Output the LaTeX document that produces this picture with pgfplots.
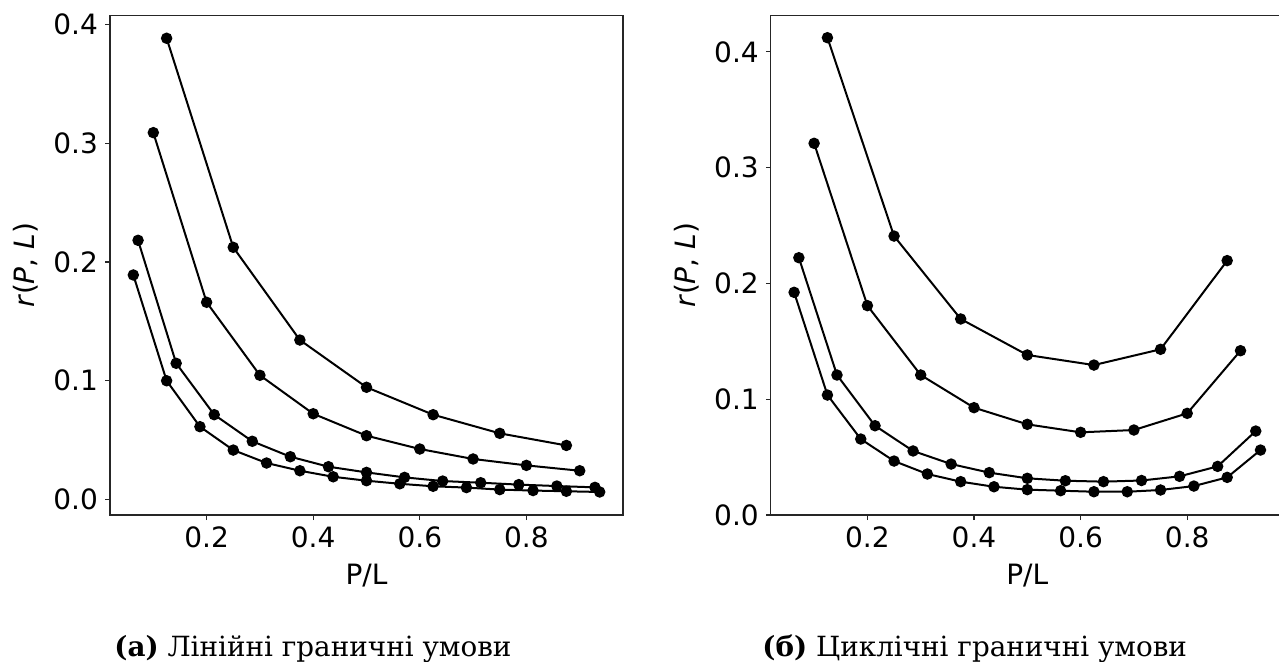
\documentclass[border=0pt]{standalone}
\usepackage{fontspec}
\setmainfont{DejaVu Sans}
\newfontfamily\capfont{DejaVu Serif}
\usepackage{pgfplots}
\usepackage{pgfplotstable}
\pgfplotsset{compat=1.18}

% Left panel (linear boundary conditions)
\pgfplotstableread{
x y
0.125 0.3884
0.25 0.2123
0.375 0.1342
0.5 0.0944
0.625 0.0713
0.75 0.0556
0.875 0.0454
}\LA
\pgfplotstableread{
x y
0.1 0.3089
0.2 0.1660
0.3 0.1045
0.4 0.0721
0.5 0.0536
0.6 0.0424
0.7 0.0340
0.8 0.0286
0.9 0.0241
}\LB
\pgfplotstableread{
x y
0.0714 0.2182
0.1429 0.1146
0.2143 0.0713
0.2857 0.0489
0.3571 0.0359
0.4286 0.0275
0.5 0.0227
0.5714 0.0185
0.6429 0.0154
0.7143 0.0140
0.7857 0.0124
0.8571 0.0112
0.9286 0.0101
}\LC
\pgfplotstableread{
x y
0.0625 0.1890
0.125 0.0999
0.1875 0.0612
0.25 0.0415
0.3125 0.0306
0.375 0.0241
0.4375 0.0190
0.5 0.0157
0.5625 0.0131
0.625 0.0110
0.6875 0.0099
0.75 0.0082
0.8125 0.0074
0.875 0.0068
0.9375 0.0062
}\LD
% Right panel (cyclic boundary conditions)
\pgfplotstableread{
x y
0.125 0.4122
0.25 0.2409
0.375 0.1693
0.5 0.1382
0.625 0.1295
0.75 0.1431
0.875 0.2197
}\RA
\pgfplotstableread{
x y
0.1 0.3210
0.2 0.1808
0.3 0.1209
0.4 0.0927
0.5 0.0783
0.6 0.0714
0.7 0.0734
0.8 0.0878
0.9 0.1419
}\RB
\pgfplotstableread{
x y
0.0714 0.2222
0.1429 0.1209
0.2143 0.0771
0.2857 0.0553
0.3571 0.0440
0.4286 0.0366
0.5 0.0317
0.5714 0.0296
0.6429 0.0288
0.7143 0.0298
0.7857 0.0334
0.8571 0.0420
0.9286 0.0725
}\RC
\pgfplotstableread{
x y
0.0625 0.1923
0.125 0.1036
0.1875 0.0656
0.25 0.0466
0.3125 0.0354
0.375 0.0288
0.4375 0.0244
0.5 0.0219
0.5625 0.0210
0.625 0.0201
0.6875 0.0201
0.75 0.0216
0.8125 0.0250
0.875 0.0325
0.9375 0.0561
}\RD

\pgfplotsset{
  panel/.style={
    anchor=south west,
    scale only axis,
    width=256.5pt, height=249.65pt,
    xmin=0.01875, xmax=0.98125,
    xtick={0.2,0.4,0.6,0.8},
    ytick={0,0.1,0.2,0.3,0.4},
    tick align=outside,
    major tick length=2.5pt,
    xtick pos=bottom, ytick pos=left,
    axis line style={line width=0.6pt, black!85},
    every tick/.style={line width=0.6pt, black!85},
    tick label style={font=\fontsize{14}{16}\selectfont},
    label style={font=\fontsize{14}{16}\selectfont},
    /pgf/number format/assume math mode=true,
    xticklabel style={/pgf/number format/.cd, fixed, fixed zerofill, precision=1},
    yticklabel style={/pgf/number format/.cd, fixed, fixed zerofill, precision=1},
    xlabel={P/L},
    ylabel={\textit{r}(\textit{P}, \textit{L})},
    ylabel style={at={(axis description cs:-0.1637,0.5)}, anchor=center},
    xlabel style={at={(axis description cs:0.5,-0.14)}, anchor=base},
    every axis plot post/.append style={black, line width=1pt, mark=*, mark size=2.35pt, mark options={solid, fill=black, draw=black}},
  }
}

\begin{document}
\begin{tikzpicture}
\path[use as bounding box] (0,0) rectangle (639.5pt,330.5pt);
\begin{axis}[panel, at={(55pt,73pt)}, ymin=-0.0132, ymax=0.4074]
\addplot table[x=x,y=y] {\LA};
\addplot table[x=x,y=y] {\LB};
\addplot table[x=x,y=y] {\LC};
\addplot table[x=x,y=y] {\LD};
\end{axis}
\begin{axis}[panel, at={(385.4pt,73pt)}, ymin=0, ymax=0.4312]
\addplot table[x=x,y=y] {\RA};
\addplot table[x=x,y=y] {\RB};
\addplot table[x=x,y=y] {\RC};
\addplot table[x=x,y=y] {\RD};
\end{axis}
\node[anchor=base west, inner sep=0pt, font=\capfont\fontsize{13.9}{16}\selectfont] at (57pt,2.5pt) {\textbf{(а)} Лінійні граничні умови};
\node[anchor=base west, inner sep=0pt, font=\capfont\fontsize{13.9}{16}\selectfont] at (381pt,2.5pt) {\textbf{(б)} Циклічні граничні умови};
\end{tikzpicture}
\end{document}
